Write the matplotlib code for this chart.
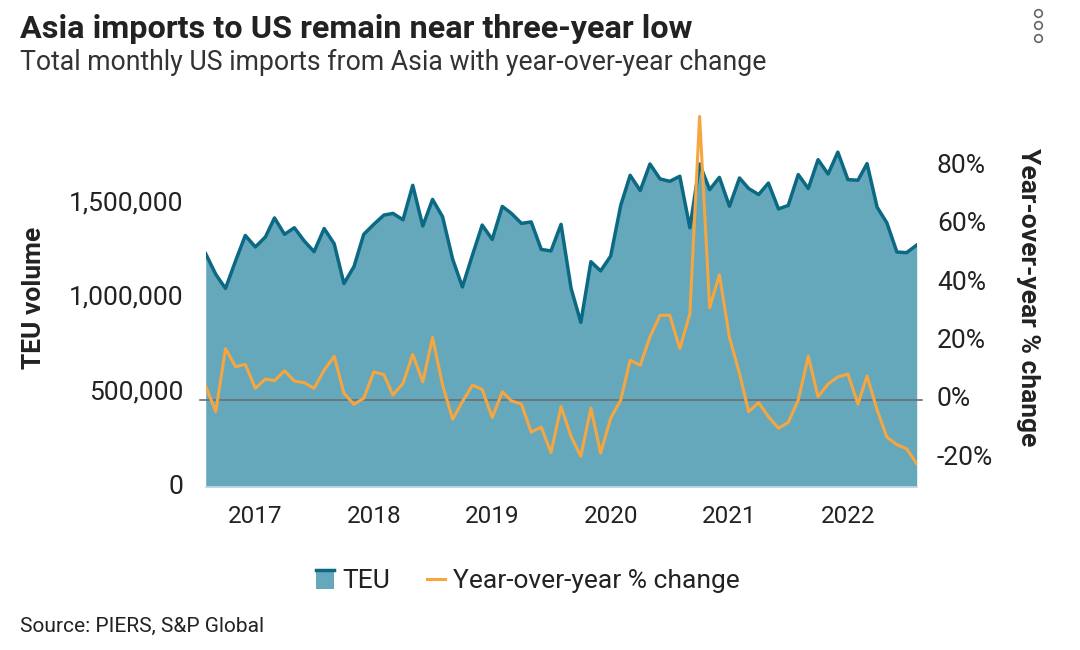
import numpy as np
import pandas as pd
import matplotlib
matplotlib.use('Agg')
import matplotlib.pyplot as plt
import matplotlib.dates as mdates
from matplotlib.patches import Rectangle
from matplotlib.lines import Line2D
from matplotlib.legend_handler import HandlerBase
from matplotlib.ticker import FuncFormatter
from matplotlib.transforms import ScaledTranslation

plt.rcParams['font.family'] = ['Roboto', 'DejaVu Sans']

# monthly TEU imports from Asia, Aug 2016 - Aug 2022 (thousands)
teu_k = [1237, 1128, 1053, 1199, 1334, 1273, 1326, 1427, 1340, 1375,
         1304, 1248, 1371, 1290, 1079, 1169, 1340, 1393, 1442, 1451,
         1417, 1600, 1384, 1525, 1433, 1208, 1061, 1230, 1389, 1313,
         1488, 1451, 1398, 1406, 1260, 1252, 1393, 1053, 873, 1195,
         1146, 1225, 1494, 1653, 1572, 1713, 1634, 1621, 1648, 1375,
         1713, 1577, 1642, 1489, 1639, 1583, 1551, 1612, 1475, 1493,
         1657, 1583, 1736, 1660, 1776, 1630, 1627, 1715, 1484, 1401,
         1246, 1243, 1283]
yoy = [4.8, -4.0, 17.6, 11.4, 12.2, 4.0, 7.2, 6.6, 10.0, 6.5,
       5.9, 4.0, 10.2, 15.0, 2.3, -1.5, 0.6, 9.6, 8.7, 1.7,
       5.7, 15.6, 6.2, 21.4, 5.1, -6.6, -0.6, 5.1, 3.6, -6.0,
       2.8, -0.3, -1.4, -11.0, -9.3, -18.0, -2.3, -12.5, -19.3, -2.8,
       -18.2, -6.2, 0.0, 13.6, 11.9, 21.6, 29.0, 29.0, 17.6, 29.5,
       97.1, 31.6, 42.9, 21.4, 9.1, -4.0, -0.9, -5.7, -9.7, -7.7,
       0.0, 15.0, 1.1, 5.5, 7.9, 8.9, -1.4, 8.2, -3.4, -12.7,
       -15.3, -16.7, -21.8]
months = pd.date_range('2016-08-01', periods=len(teu_k), freq='MS')
teu = np.array(teu_k) * 1000

left_ticks = [0, 500000, 1000000, 1500000]
right_ticks = [-20, 0, 20, 40, 60, 80]

fill_col = '#66a8bb'
line_col = '#0c6984'
orange = '#f5a640'
text_col = '#222222'

fig = plt.figure(figsize=(10.8, 6.5), dpi=100)
ax = fig.add_axes([205.7 / 1080, 1 - 487 / 650, 711 / 1080, 379 / 650])
ax2 = ax.twinx()

ax.fill_between(months, teu, 0, color=fill_col, lw=0, zorder=1)
ax.plot(months, teu, color=line_col, lw=2.5, zorder=2)

ax2.axhline(0, color='#6e6e6e', lw=1.2, zorder=1, clip_on=False,
            xmin=-6 / 711, xmax=1 + 5 / 711)
ax2.plot(months, yoy, color=orange, lw=2.2, zorder=2)

ax.set_xlim(months[0], months[-1])
ax.set_ylim(0, 2010000)
ax2.set_ylim(-29.8, 100)

ax.set_yticks(left_ticks)
ax.yaxis.set_major_formatter(FuncFormatter(lambda v, p: f'{int(v):,}'))
ax2.set_yticks(right_ticks)
ax2.yaxis.set_major_formatter(FuncFormatter(lambda v, p: f'{int(v)}%'))
ax.xaxis.set_major_locator(mdates.YearLocator())
ax.xaxis.set_major_formatter(mdates.DateFormatter('%Y'))

ax.tick_params(axis='y', length=0, pad=16.3, labelsize=19, labelcolor=text_col)
ax2.tick_params(axis='y', length=0, pad=14.6, labelsize=19, labelcolor=text_col)
ax.tick_params(axis='x', length=0, pad=13, labelsize=17.5, labelcolor=text_col)

# nudge y tick labels up a few pixels
lift = ScaledTranslation(0, 3 / 100, fig.dpi_scale_trans)
for lab in ax.get_yticklabels() + ax2.get_yticklabels():
    lab.set_transform(lab.get_transform() + lift)

for a in (ax, ax2):
    for s in ('top', 'left', 'right', 'bottom'):
        a.spines[s].set_visible(False)
ax.spines['bottom'].set_visible(True)
ax.spines['bottom'].set_color('#ccd6eb')
ax.spines['bottom'].set_linewidth(1.2)

fig.text(34 / 1080, 1 - 298 / 650, 'TEU volume', rotation=90, ha='center',
         va='center', fontsize=19, fontweight='bold', color=text_col)
fig.text(1028 / 1080, 1 - 297 / 650, 'Year-over-year % change', rotation=270,
         ha='center', va='center', fontsize=19, fontweight='bold', color=text_col)

fig.text(20 / 1080, 1 - 38 / 650, 'Asia imports to US remain near three-year low',
         fontsize=23.3, fontweight='bold', color=text_col, va='baseline')
fig.text(20 / 1080, 1 - 70 / 650,
         'Total monthly US imports from Asia with year-over-year change',
         fontsize=19.2, color='#333333', va='baseline')
fig.text(20 / 1080, 1 - 631.5 / 650, 'Source: PIERS, S&P Global',
         fontsize=15, color=text_col, va='baseline')

# vertical ellipsis menu icon
for yy in (13, 25, 38):
    fig.add_artist(Line2D([1038 / 1080], [1 - yy / 650], marker='o', ms=5.5,
                          mfc='none', mec='#666666', mew=1.2,
                          transform=fig.transFigure))


class AreaHandler(HandlerBase):
    def create_artists(self, legend, orig_handle, x0, y0, width, height,
                       fontsize, trans):
        face = Rectangle((-x0, -y0), width, height, facecolor=fill_col,
                         edgecolor='none', transform=trans)
        top = Line2D([-x0, -x0 + width], [-y0 + height - 1, -y0 + height - 1],
                     color=line_col, lw=2.5, transform=trans)
        return [face, top]


teu_handle = Rectangle((0, 0), 1, 1)
yoy_handle = Line2D([], [], color=orange, lw=2.2)
fig.legend([teu_handle, yoy_handle], ['TEU', 'Year-over-year % change'],
           handler_map={Rectangle: AreaHandler()},
           loc='center', bbox_to_anchor=(528 / 1080, 1 - 581 / 650),
           ncol=2, frameon=False, fontsize=19, handlelength=0.68,
           handleheight=0.78, handletextpad=0.3, columnspacing=1.4,
           labelcolor=text_col)

fig.savefig('out.png', dpi=100)
